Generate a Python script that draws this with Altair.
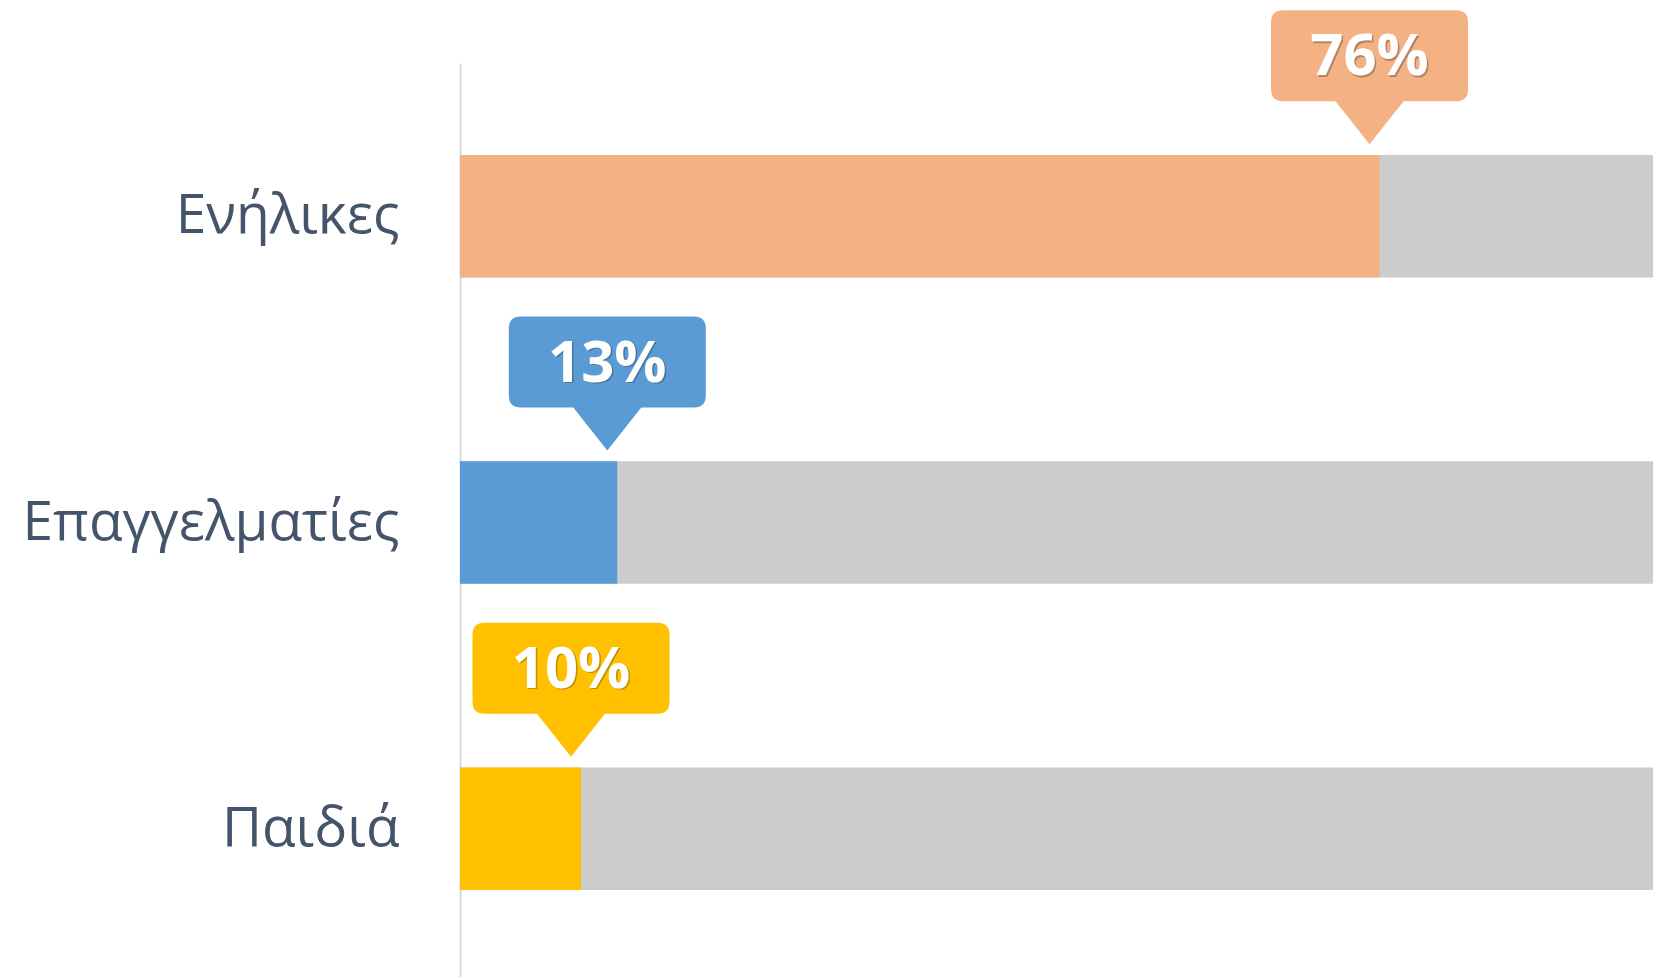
import altair as alt
import pandas as pd

categories = ["Ενήλικες", "Επαγγελματίες", "Παιδιά"]
values = [76, 13, 10]
totals = [100, 100, 100]
labels = ["76%", "13%", "10%"]
colors = ["#F4B183", "#5B9BD5", "#FFC000"]

df = pd.DataFrame({"cat": categories, "value": values, "total": totals, "label": labels})

callout_path = ("M 0 0 L -34 -43 L -86.5 -43 Q -98.5 -43 -98.5 -55 L -98.5 -122 "
                "Q -98.5 -134 -86.5 -134 L 86.5 -134 Q 98.5 -134 98.5 -122 L 98.5 -55 "
                "Q 98.5 -43 86.5 -43 L 34 -43 Z")

y_enc = alt.Y("cat:N", sort=categories, title=None,
              scale=alt.Scale(paddingInner=0.6, paddingOuter=0.3),
              axis=alt.Axis(labelFont="Open Sans", labelFontSize=55, labelColor="#44546A",
                            labelPadding=61, ticks=False, domainColor="#D9D9D9",
                            domainWidth=2, labelLimit=600))
x_scale = alt.Scale(domain=[0, 98.6], nice=False, zero=True)
color_enc = alt.Color("cat:N", scale=alt.Scale(domain=categories, range=colors), legend=None)

base = alt.Chart(df)

gray = base.mark_bar(color="#CCCCCC", clip=True).encode(
    x=alt.X("total:Q", scale=x_scale, axis=None), y=y_enc)

bars = base.mark_bar(clip=True).encode(
    x=alt.X("value:Q", scale=x_scale, axis=None), y=y_enc, color=color_enc)

callout = base.mark_point(shape=callout_path, size=4, filled=True, opacity=1,
                          xOffset=-10, yOffset=-72).encode(
    x=alt.X("value:Q", scale=x_scale, axis=None), y=y_enc, color=color_enc)

shadow = base.mark_text(font="Open Sans", fontWeight="bold", fontSize=58, color="#000000",
                        opacity=0.25, dx=-8.5, dy=-156.5, baseline="middle", align="center").encode(
    x=alt.X("value:Q", scale=x_scale, axis=None), y=y_enc, text="label:N")

text = base.mark_text(font="Open Sans", fontWeight="bold", fontSize=58, color="#FFFFFF",
                      dx=-10, dy=-158, baseline="middle", align="center").encode(
    x=alt.X("value:Q", scale=x_scale, axis=None), y=y_enc, text="label:N")

chart = alt.layer(gray, bars, callout, shadow, text).properties(
    width=1193, height=919,
    background="#FFFFFF",
    autosize=alt.AutoSizeParams(type="none"),
    padding={"left": 460, "top": 63, "right": 0, "bottom": 0},
).configure_view(strokeWidth=0, stroke="transparent")

chart.save("out.html", embed_options={"renderer": "svg", "actions": False})
